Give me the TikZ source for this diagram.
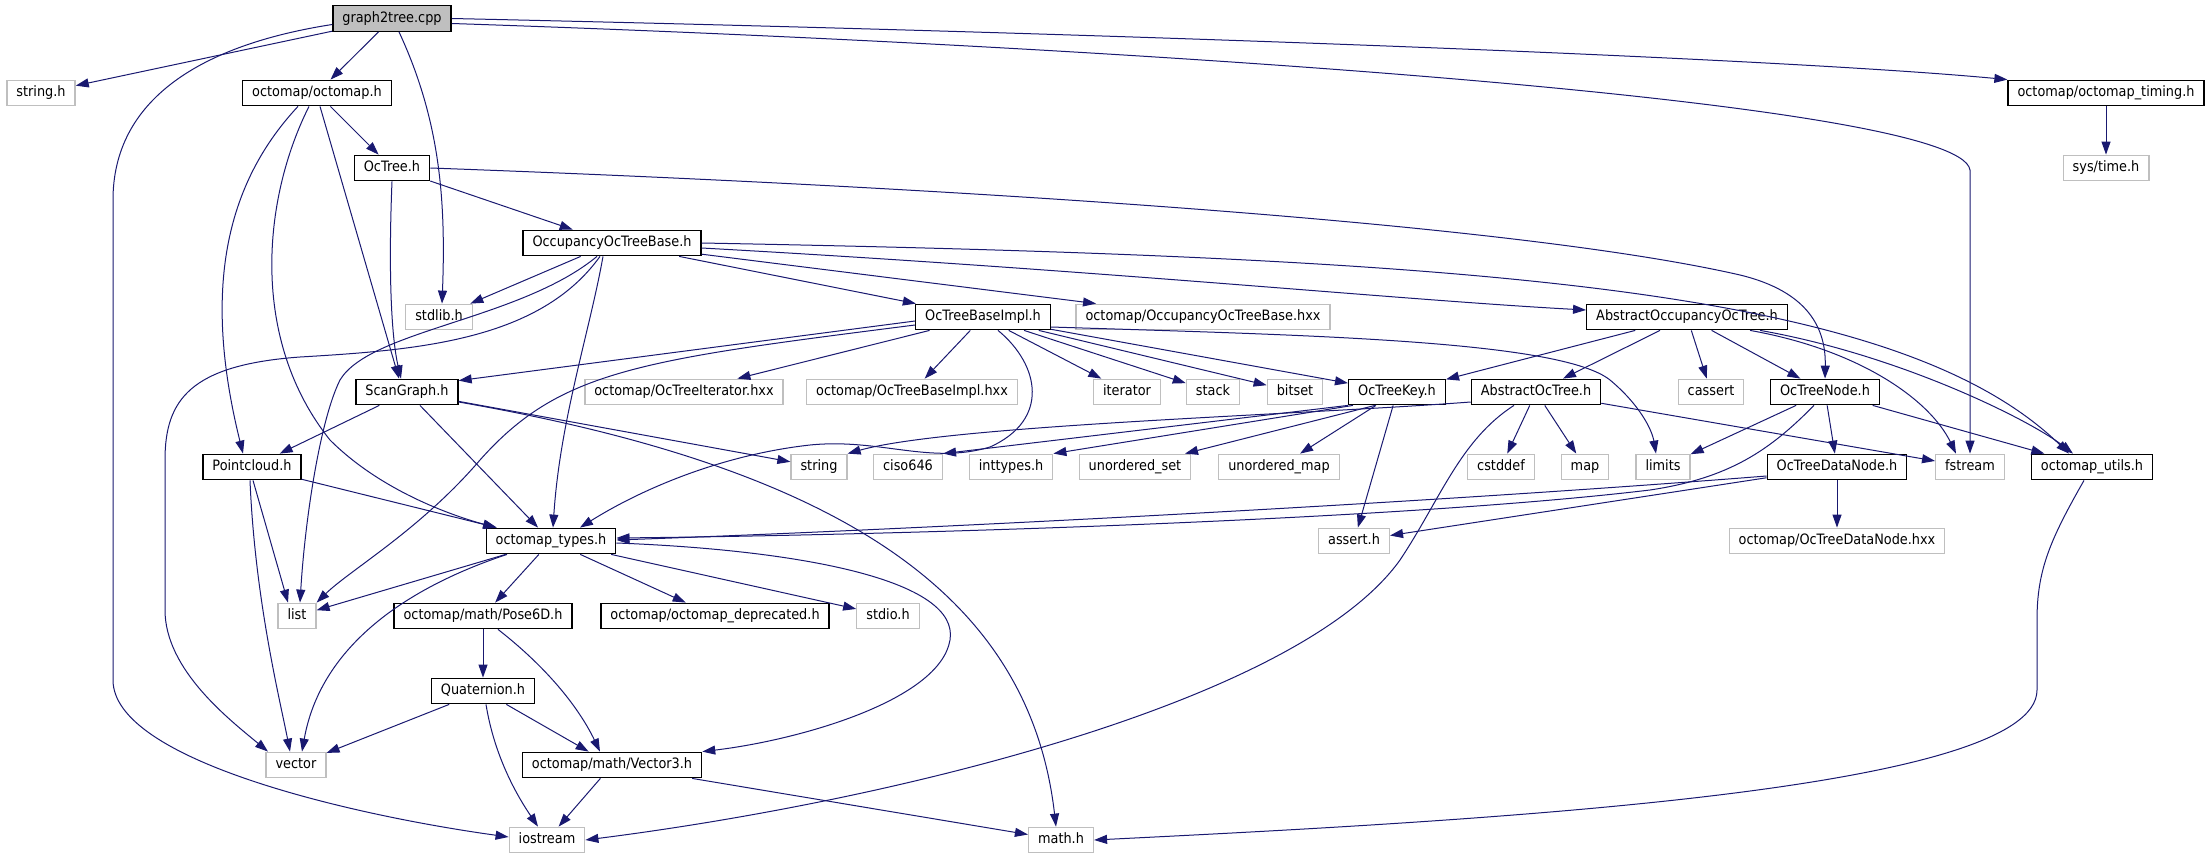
\documentclass[tikz,border=0pt]{standalone}
\usepackage{fontspec}
\setmainfont{DejaVu Sans}[FakeStretch=0.9]
\usetikzlibrary{arrows.meta,calc}
\definecolor{edgeblue}{HTML}{191970}
\definecolor{extgray}{HTML}{BFBFBF}

\begin{document}
\begin{tikzpicture}[x=1pt, y=-1pt, every node/.style={font=\fontsize{14.3}{16}\selectfont}]
\tikzset{box/.style={draw, rectangle, line width=1.3pt, inner xsep=9.5pt, inner ysep=0pt, minimum height=25.5pt, text height=10.5pt, text depth=3pt}}
\tikzset{doc/.style={box, draw=black}}
\tikzset{ext/.style={box, draw=extgray}}
\tikzset{dep/.style={draw=edgeblue, line width=1pt, -{Triangle[length=13pt,width=9pt]}}}
\useasboundingbox (0,0) rectangle (2211,859);

\node[doc, fill=extgray] (g2t) at (392,18.5) {graph2tree.cpp};
\node[ext] (strh) at (41,93) {string.h};
\node[doc] (omap) at (317,93) {octomap/octomap.h};
\node[doc] (timing) at (2106,93) {octomap/octomap\_timing.h};
\node[ext] (systime) at (2106,168) {sys/time.h};
\node[doc] (octree) at (392,168) {OcTree.h};
\node[doc] (occbase) at (612,243) {OccupancyOcTreeBase.h};
\node[ext] (stdlib) at (439,317) {stdlib.h};
\node[doc] (obimpl) at (983,317) {OcTreeBaseImpl.h};
\node[ext] (occhxx) at (1203,317) {octomap/OccupancyOcTreeBase.hxx};
\node[doc] (aboccu) at (1687,317) {AbstractOccupancyOcTree.h};
\node[doc] (scang) at (407,392) {ScanGraph.h};
\node[ext] (iterhxx) at (684,392) {octomap/OcTreeIterator.hxx};
\node[ext] (obihxx) at (912,392) {octomap/OcTreeBaseImpl.hxx};
\node[ext] (iter) at (1127,392) {iterator};
\node[ext] (stack) at (1213,392) {stack};
\node[ext] (bitset) at (1295,392) {bitset};
\node[doc] (key) at (1397,392) {OcTreeKey.h};
\node[doc] (abstree) at (1536,392) {AbstractOcTree.h};
\node[ext] (cassert) at (1711,392) {cassert};
\node[doc] (tnode) at (1825,392) {OcTreeNode.h};
\node[doc] (ptcl) at (252,467) {Pointcloud.h};
\node[ext] (str) at (819,467) {string};
\node[ext] (ciso) at (908,467) {ciso646};
\node[ext] (intt) at (1011,467) {inttypes.h};
\node[ext] (uset) at (1135,467) {unordered\_set};
\node[ext] (umap) at (1279,467) {unordered\_map};
\node[ext] (cstddef) at (1501,467) {cstddef};
\node[ext] (map) at (1585,467) {map};
\node[ext] (limits) at (1663,467) {limits};
\node[doc] (dnode) at (1837,467) {OcTreeDataNode.h};
\node[ext] (fstream) at (1970,467) {fstream};
\node[doc] (utils) at (2092,467) {octomap\_utils.h};
\node[doc] (types) at (551,541) {octomap\_types.h};
\node[ext] (assert) at (1354,541) {assert.h};
\node[ext] (dnhxx) at (1837,541) {octomap/OcTreeDataNode.hxx};
\node[ext] (list) at (297,616) {list};
\node[doc] (pose) at (483,616) {octomap/math/Pose6D.h};
\node[doc] (depr) at (715,616) {octomap/octomap\_deprecated.h};
\node[ext] (stdio) at (888,616) {stdio.h};
\node[doc] (quat) at (483,691) {Quaternion.h};
\node[ext] (vector) at (296,765) {vector};
\node[doc] (vec3) at (612,765) {octomap/math/Vector3.h};
\node[ext] (iostream) at (547,840) {iostream};
\node[ext] (math) at (1061,840) {math.h};

\draw[dep] (g2t) -- (strh);
\draw[dep] (g2t) -- (omap);
\draw[dep] ([xshift=7pt]g2t.south) .. controls (440,120) and (446,200) .. ([xshift=3pt]stdlib.north);
\draw[dep] ([yshift=-6pt]g2t.west) .. controls (200,45) and (113,100) .. (113,200) -- (113,680) .. controls (113,760) and (350,815) .. ([yshift=3pt]iostream.west);
\draw[dep] (g2t.east) .. controls (1200,35) and (1800,60) .. (timing.north west);
\draw[dep] ([yshift=-5pt]g2t.east) .. controls (1100,45) and (1960,100) .. (1970,170) -- (fstream.north);
\draw[dep] (timing) -- (systime);

\draw[dep] (omap) -- (octree);
\draw[dep] ([xshift=-19pt]omap.south) .. controls (220,190) and (205,300) .. ([xshift=-9pt]ptcl.north);
\draw[dep] ([xshift=-8pt]omap.south) .. controls (262,200) and (250,340) .. (330,440) .. controls (380,490) and (450,515) .. ([xshift=-55pt]types.north);
\draw[dep] ([xshift=3pt]omap.south) -- ([xshift=-8pt]scang.north);

\draw[dep] (octree) -- (occbase);
\draw[dep] (octree.south) .. controls (388,280) and (392,340) .. ([xshift=-6pt]scang.north);
\draw[dep] (octree.east) .. controls (900,185) and (1500,220) .. (1740,275) .. controls (1810,292) and (1826,330) .. (tnode.north);

\draw[dep] (occbase) -- (stdlib);
\draw[dep] (occbase) -- (obimpl);
\draw[dep] (occbase) -- (occhxx);
\draw[dep] ([yshift=-5pt]occbase.east) .. controls (1100,270) and (1400,300) .. ([yshift=7pt]aboccu.west);
\draw[dep] (occbase.east) .. controls (1500,258) and (1900,290) .. ([xshift=-23pt]utils.north);
\draw[dep] ([xshift=-15pt]occbase.south) .. controls (520,320) and (370,330) .. (340,380) .. controls (320,420) and (305,520) .. ([xshift=3pt]list.north);
\draw[dep] ([xshift=-12pt]occbase.south) .. controls (540,340) and (420,350) .. (300,357) .. controls (190,365) and (165,400) .. (165,460) -- (165,610) .. controls (165,670) and (230,720) .. ([xshift=-28pt]vector.north);
\draw[dep] ([xshift=-9pt]occbase.south) .. controls (590,330) and (560,420) .. ([xshift=2pt]types.north);

\draw[dep] ([yshift=-4pt]obimpl.west) -- ([yshift=-2pt]scang.north east);
\draw[dep] ([yshift=-8pt]obimpl.west) .. controls (640,360) and (560,370) .. (480,460) .. controls (420,530) and (350,570) .. (list.north east);
\draw[dep] (obimpl) -- (iterhxx);
\draw[dep] (obimpl) -- (obihxx);
\draw[dep] (obimpl) -- (iter);
\draw[dep] (obimpl) -- (stack);
\draw[dep] (obimpl) -- (bitset);
\draw[dep] (obimpl) -- (key);
\draw[dep] ([yshift=-10pt]obimpl.east) .. controls (1300,335) and (1560,340) .. (1610,380) .. controls (1640,405) and (1652,430) .. ([xshift=-7pt]limits.north);
\draw[dep] ([xshift=15pt]obimpl.south) .. controls (1040,365) and (1050,420) .. (990,447) .. controls (930,465) and (880,438) .. (810,445) .. controls (720,455) and (640,490) .. ([xshift=29pt]types.north);

\draw[dep] (key.south west) -- (ciso.north east);
\draw[dep] ([xshift=5pt]key.south west) -- (intt.north east);
\draw[dep] ([xshift=-22pt]key.south) -- ([xshift=50pt]uset.north);
\draw[dep] (key) -- (umap);
\draw[dep] (key) -- (assert);

\draw[dep] (aboccu) -- (key);
\draw[dep] (aboccu) -- (abstree);
\draw[dep] (aboccu) -- (cassert);
\draw[dep] (aboccu) -- (tnode);
\draw[dep] ([xshift=63pt]aboccu.south) .. controls (1860,350) and (1930,400) .. ([xshift=-14pt]fstream.north);
\draw[dep] ([xshift=73pt]aboccu.south) .. controls (1900,355) and (2030,420) .. ([xshift=-19pt]utils.north);

\draw[dep] (abstree) -- (cstddef);
\draw[dep] (abstree) -- (map);
\draw[dep] (abstree) -- (fstream);
\draw[dep] ([yshift=-10pt]abstree.west) .. controls (1300,415) and (950,425) .. (str.north east);
\draw[dep] ([xshift=-22pt]abstree.south) .. controls (1460,440) and (1440,500) .. (1400,560) .. controls (1300,700) and (900,800) .. (iostream.east);

\draw[dep] (tnode) -- (limits);
\draw[dep] ([xshift=-11pt]tnode.south) .. controls (1770,450) and (1730,478) .. (1650,490) .. controls (1400,520) and (900,535) .. ([yshift=3pt]types.east);
\draw[dep] (tnode) -- (dnode);
\draw[dep] (tnode) -- (utils);

\draw[dep] (dnode) -- (dnhxx);
\draw[dep] (dnode) -- (assert);
\draw[dep] ([yshift=-9pt]dnode.west) .. controls (1400,505) and (900,530) .. ([yshift=1pt]types.east);

\draw[dep] ([xshift=-8pt]utils.south) .. controls (2050,540) and (2037,570) .. (2037,620) -- (2037,690) .. controls (2037,790) and (1500,820) .. (math.east);

\draw[dep] (scang) -- (ptcl);
\draw[dep] (scang) -- (types);
\draw[dep] (scang) -- (str);
\draw[dep] ([yshift=-10pt]scang.east) .. controls (850,470) and (1030,600) .. ([xshift=-5pt]math.north);

\draw[dep] (ptcl) -- (types);
\draw[dep] ([xshift=1pt]ptcl.south) -- ([xshift=-9pt]list.north);
\draw[dep] ([xshift=-2pt]ptcl.south) .. controls (255,600) and (280,700) .. ([xshift=-6pt]vector.north);

\draw[dep] (types) -- (list);
\draw[dep] ([xshift=-44pt]types.south) .. controls (400,590) and (320,650) .. ([xshift=6pt]vector.north);
\draw[dep] (types) -- (pose);
\draw[dep] (types) -- (depr);
\draw[dep] (types) -- (stdio);
\draw[dep] ([yshift=-2pt]types.east) .. controls (800,550) and (960,580) .. (950,640) .. controls (940,700) and (800,740) .. (vec3.north east);

\draw[dep] (pose) -- (quat);
\draw[dep] ([xshift=15pt]pose.south) .. controls (550,670) and (580,710) .. ([xshift=-12pt]vec3.north);

\draw[dep] (quat) -- (vector);
\draw[dep] ([xshift=3pt]quat.south) .. controls (495,760) and (520,800) .. ([xshift=-9pt]iostream.north);
\draw[dep] (quat) -- (vec3);

\draw[dep] (vec3) -- (iostream);
\draw[dep] (vec3) -- (math);
\end{tikzpicture}
\end{document}
